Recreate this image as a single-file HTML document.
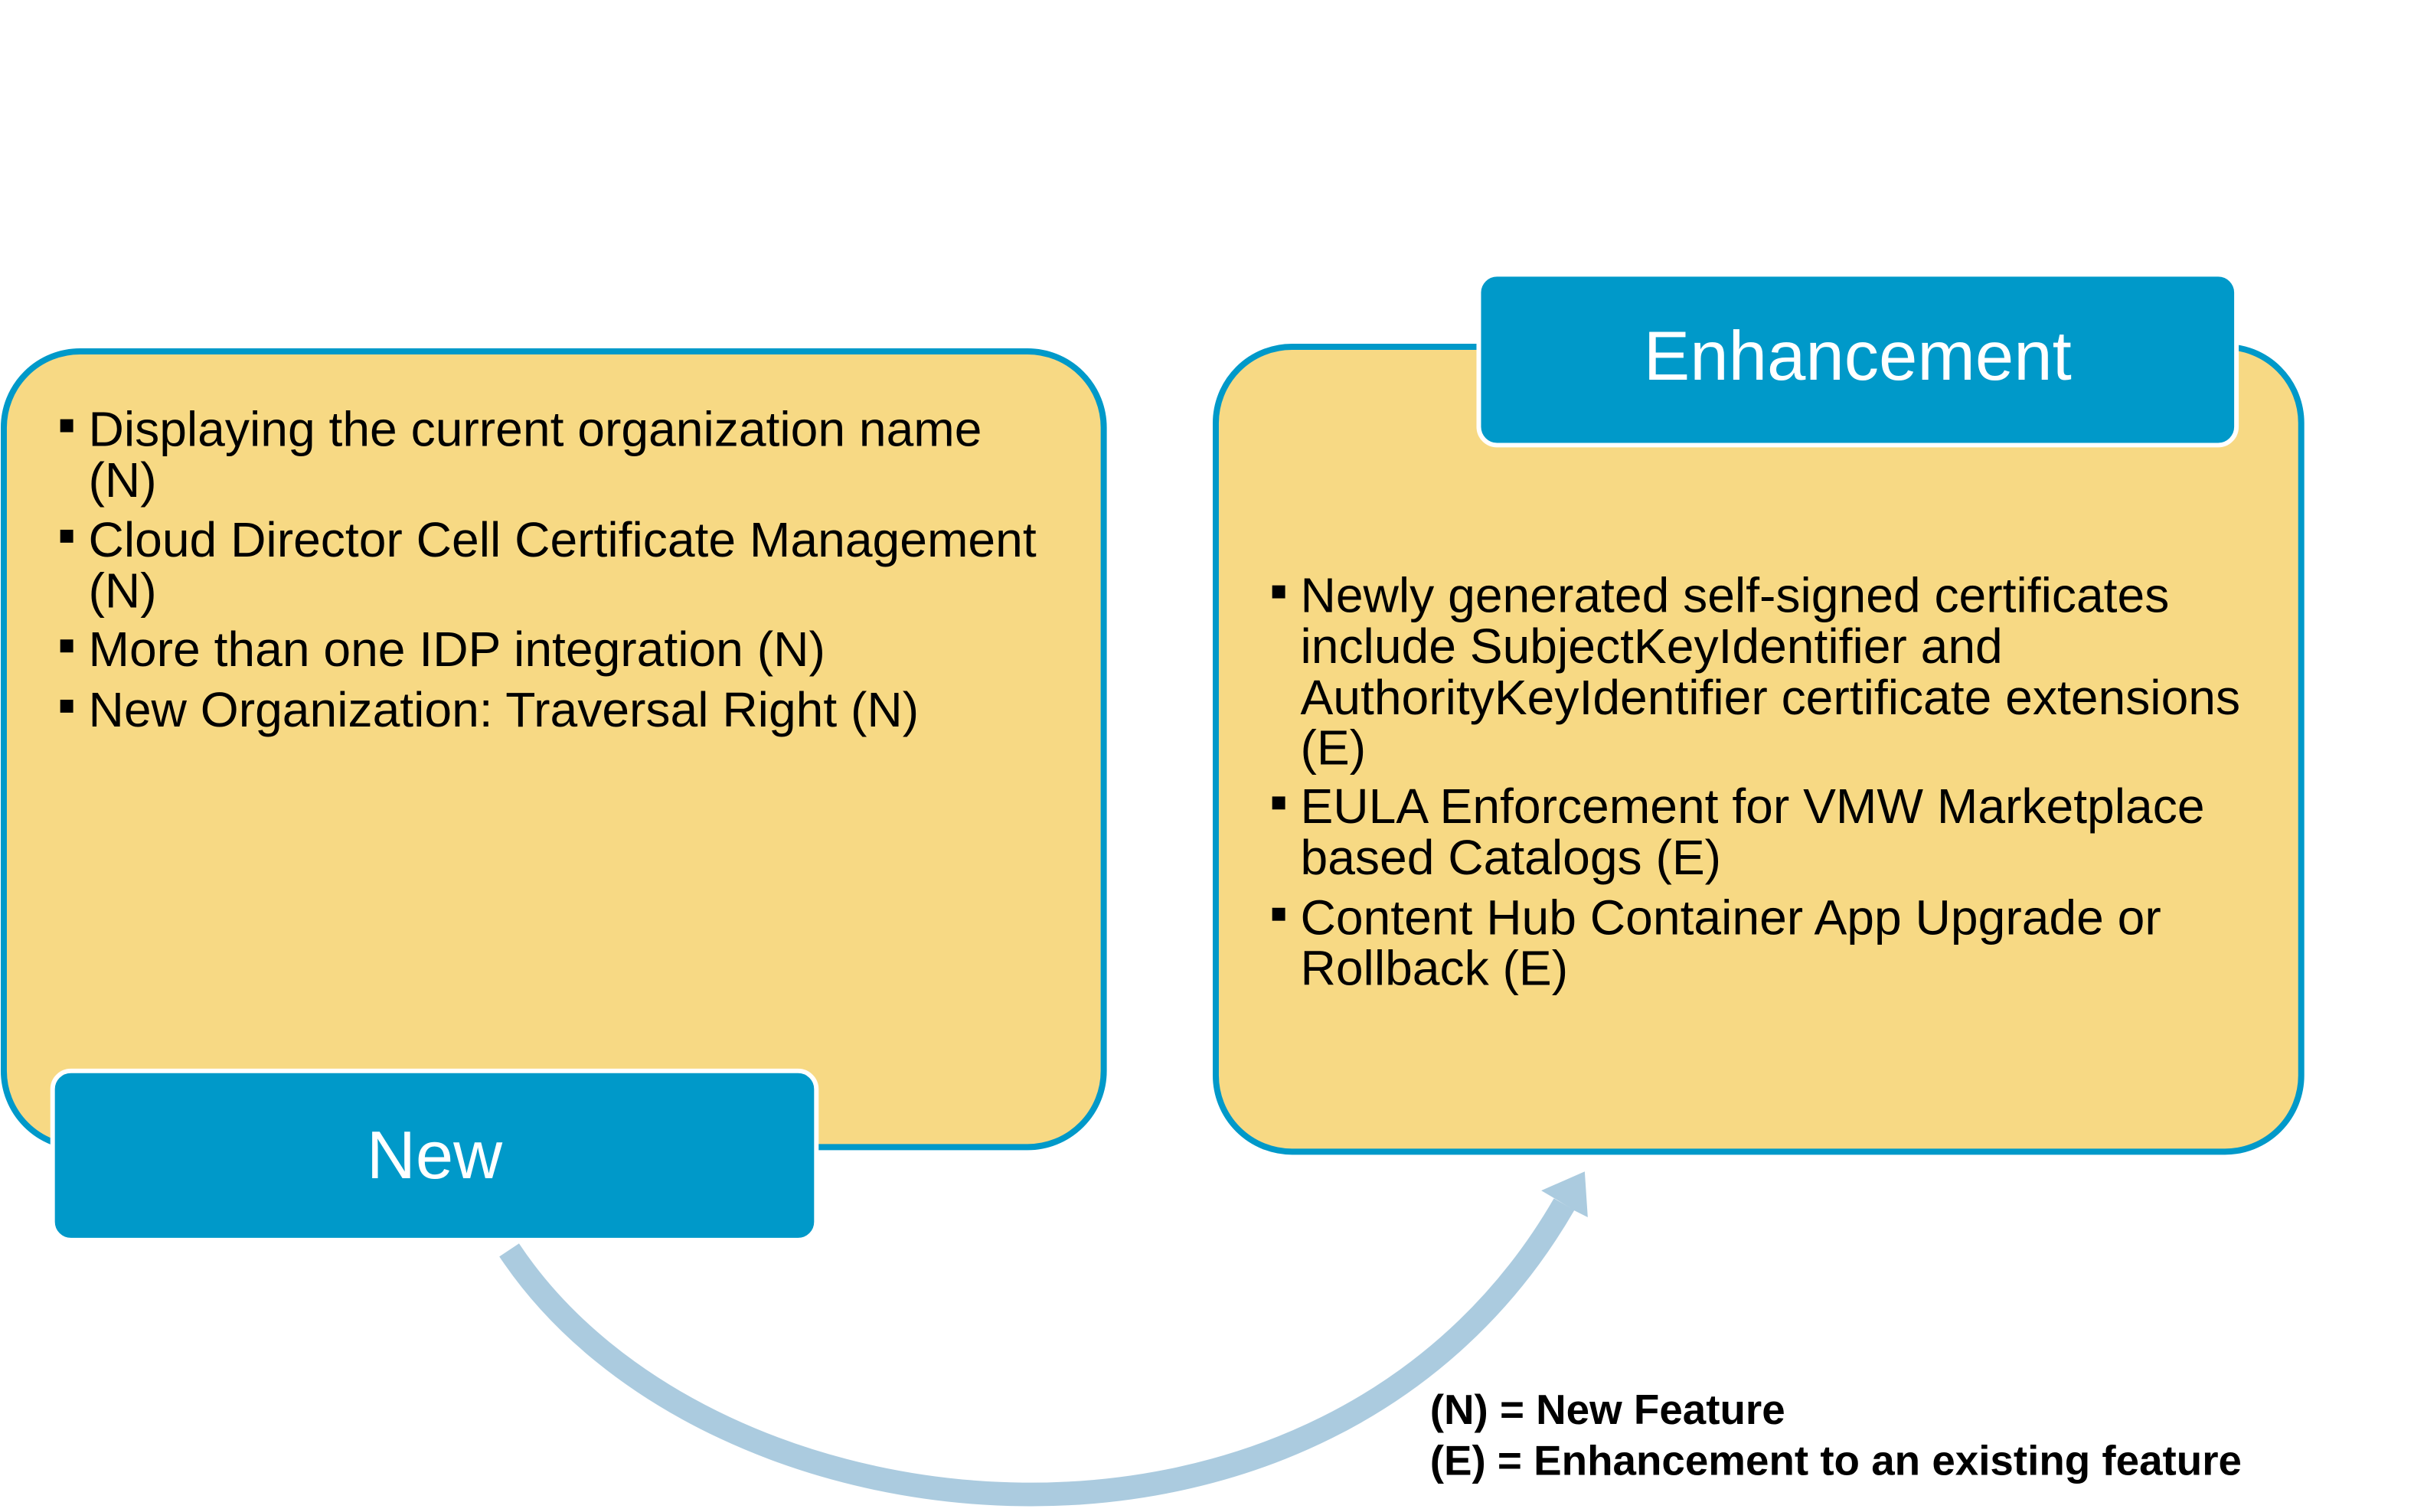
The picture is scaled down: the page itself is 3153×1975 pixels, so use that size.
<!DOCTYPE html>
<html><head><meta charset="utf-8"><style>
html,body{margin:0;padding:0;background:#fff}
svg{display:block}
text{font-family:"Liberation Sans",Arial,sans-serif}
</style></head><body>
<svg width="3153" height="1975" viewBox="0 0 3153 1975" xmlns="http://www.w3.org/2000/svg">
<rect x="0" y="0" width="3153" height="1975" fill="#fff"/>
<g transform="scale(0.9956)">
<rect x="5" y="461" width="1443" height="1044" rx="100" ry="100" fill="#f7d984" stroke="#0099c9" stroke-width="8"/>
<rect x="1595" y="455" width="1424" height="1056" rx="100" ry="100" fill="#f7d984" stroke="#0099c9" stroke-width="8"/>
<path d="M 668 1640 C 930 2035, 1740 2120, 2052 1580" fill="none" stroke="#abcbdf" stroke-width="31"/>
<polygon points="2079,1537 2022,1562 2039,1572 2065,1588 2083,1597" fill="#abcbdf"/>
<rect x="69" y="1405" width="1002" height="222" rx="24" ry="24" fill="#0099c9" stroke="#fff" stroke-width="6"/>
<text x="570" y="1546" font-size="89" fill="#fff" text-anchor="middle">New</text>
<rect x="1940" y="360" width="994" height="224" rx="24" ry="24" fill="#0099c9" stroke="#fff" stroke-width="6"/>
<text x="2437" y="498" font-size="91" fill="#fff" text-anchor="middle">Enhancement</text>
<g font-size="64.5" fill="#000">
<rect x="79" y="550" width="17" height="17"/>
<text x="116" y="585">Displaying the current organization name</text>
<text x="116" y="652">(N)</text>
<rect x="79" y="695" width="17" height="17"/>
<text x="116" y="730">Cloud Director Cell Certificate Management</text>
<text x="116" y="797">(N)</text>
<rect x="79" y="839" width="17" height="17"/>
<text x="116" y="874">More than one IDP integration (N)</text>
<rect x="79" y="918" width="17" height="17"/>
<text x="116" y="953">New Organization: Traversal Right (N)</text>
</g>
<g font-size="64.5" fill="#000">
<rect x="1669" y="768" width="17" height="17"/>
<text x="1706" y="803">Newly generated self-signed certificates</text>
<text x="1706" y="870">include SubjectKeyIdentifier and</text>
<text x="1706" y="937">AuthorityKeyIdentifier certificate extensions</text>
<text x="1706" y="1003">(E)</text>
<rect x="1669" y="1045" width="17" height="17"/>
<text x="1706" y="1080">EULA Enforcement for VMW Marketplace</text>
<text x="1706" y="1147">based Catalogs (E)</text>
<rect x="1669" y="1191" width="17" height="17"/>
<text x="1706" y="1226">Content Hub Container App Upgrade or</text>
<text x="1706" y="1292">Rollback (E)</text>
</g>
<g font-size="55" font-weight="bold" fill="#000">
<text x="1876" y="1868">(N) = New Feature</text>
<text x="1876" y="1935">(E) = Enhancement to an existing feature</text>
</g>
</g>
</svg>
</body></html>
